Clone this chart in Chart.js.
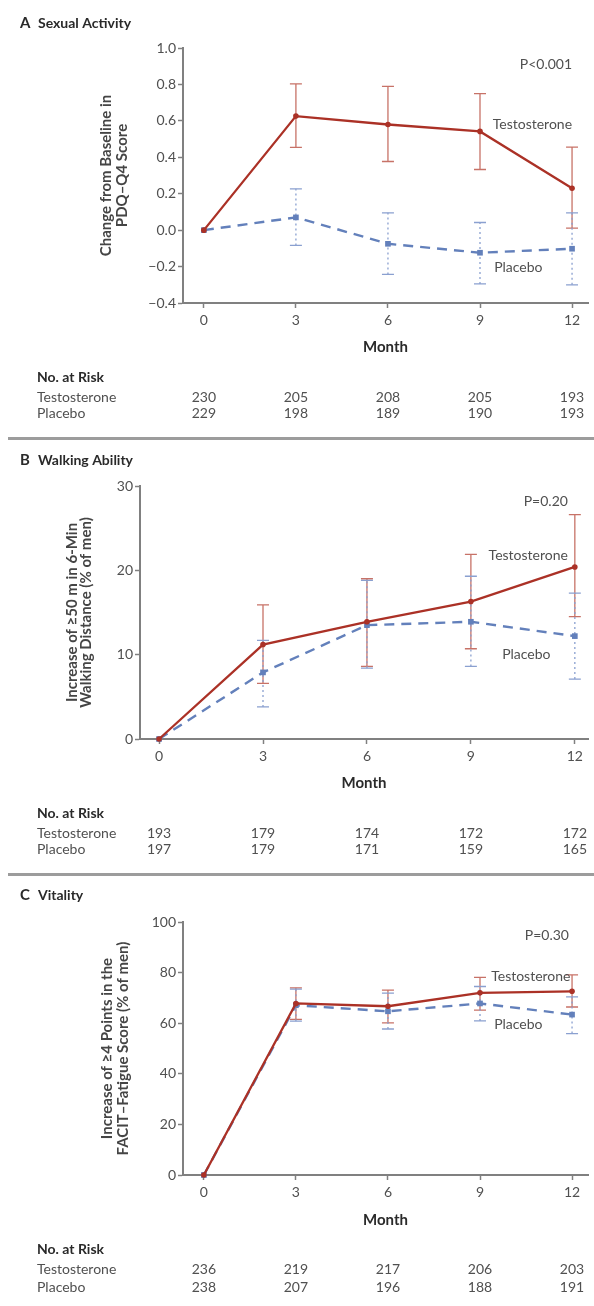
<!DOCTYPE html>
<html>
<head>
<meta charset="utf-8">
<script src="https://cdn.jsdelivr.net/npm/chart.js@4.4.0/dist/chart.umd.min.js"></script>
<style>
  body { margin: 0; background: #fff; width: 594px; height: 1306px; position: relative; overflow: hidden; }
  canvas { position: absolute; left: 0; }
  .rule { position: absolute; left: 8px; right: 0; height: 3px; background: #9c9c9c; }
</style>
</head>
<body>
<canvas id="panelA" width="594" height="437" style="top:0"></canvas>
<div class="rule" style="top:437px"></div>
<canvas id="panelB" width="594" height="433" style="top:440px"></canvas>
<div class="rule" style="top:873px"></div>
<canvas id="panelC" width="594" height="430" style="top:876px"></canvas>
<script>
// months on the x axis
const months = [0, 3, 6, 9, 12];

// A  Sexual activity (change in PDQ-Q4 score)
const sexTesto = [0, 0.626, 0.58, 0.542, 0.23];
const sexTestoLo = [null, 0.454, 0.377, 0.333, 0.011];
const sexTestoHi = [null, 0.803, 0.789, 0.749, 0.456];
const sexPlac = [0, 0.07, -0.075, -0.124, -0.102];
const sexPlacLo = [null, -0.084, -0.243, -0.295, -0.30];
const sexPlacHi = [null, 0.227, 0.095, 0.042, 0.095];
const sexTicks = [-0.4, -0.2, 0, 0.2, 0.4, 0.6, 0.8, 1.0];
const sexRiskTesto = [230, 205, 208, 205, 193];
const sexRiskPlac = [229, 198, 189, 190, 193];

// B  Walking ability (% of men)
const walkTesto = [0, 11.2, 13.9, 16.3, 20.4];
const walkTestoLo = [null, 6.6, 8.6, 10.7, 14.5];
const walkTestoHi = [null, 15.9, 19.0, 21.9, 26.6];
const walkPlac = [0, 7.9, 13.5, 13.9, 12.2];
const walkPlacLo = [null, 3.8, 8.4, 8.6, 7.1];
const walkPlacHi = [null, 11.7, 18.8, 19.3, 17.3];
const walkTicks = [0, 10, 20, 30];
const walkRiskTesto = [193, 179, 174, 172, 172];
const walkRiskPlac = [197, 179, 171, 159, 165];

// C  Vitality (% of men)
const vitTesto = [0, 67.8, 66.7, 72.0, 72.6];
const vitTestoLo = [null, 61.5, 60.1, 65.2, 66.4];
const vitTestoHi = [null, 74.0, 73.1, 78.1, 79.1];
const vitPlac = [0, 67.1, 64.7, 67.8, 63.4];
const vitPlacLo = [null, 60.8, 57.7, 60.9, 55.9];
const vitPlacHi = [null, 73.5, 71.9, 74.5, 70.4];
const vitTicks = [0, 20, 40, 60, 80, 100];
const vitRiskTesto = [236, 219, 217, 206, 203];
const vitRiskPlac = [238, 207, 196, 188, 191];

document.addEventListener('DOMContentLoaded', function() {
  const redColor = '#ab3126',
    redLightColor = '#c77267',
    blueColor = '#6380bb',
    blueLightColor = '#8aa0d0',
    axisColor = '#808080',
    labelColor = '#505050',
    headColor = '#2a2a2a',
    family = 'Lato, "Open Sans", sans-serif';

  const toPoints = (vals) => vals.map((v, i) => ({ x: months[i], y: v }));
  const fmtDec = (v) => v.toFixed(1).replace('-', '\u2212');

  // error bars, notes, panel title and at-risk table
  function extras(cfg) {
    return {
      id: 'panelExtras',
      beforeDatasetsDraw(chart) {
        const ctx = chart.ctx, xs = chart.scales.x, ys = chart.scales.y;
        cfg.bars.forEach(function(b) {
          ctx.save();
          ctx.strokeStyle = b.color;
          ctx.lineWidth = 1.3;
          b.lo.forEach(function(lo, i) {
            if (lo === null) return;
            const x = xs.getPixelForValue(months[i]);
            const y1 = ys.getPixelForValue(lo), y2 = ys.getPixelForValue(b.hi[i]);
            ctx.setLineDash(b.dash);
            ctx.beginPath(); ctx.moveTo(x, y1); ctx.lineTo(x, y2); ctx.stroke();
            ctx.setLineDash([]);
            ctx.beginPath();
            ctx.moveTo(x - 6, y1); ctx.lineTo(x + 6, y1);
            ctx.moveTo(x - 6, y2); ctx.lineTo(x + 6, y2);
            ctx.stroke();
          });
          ctx.restore();
        });
      },
      afterDraw(chart) {
        const ctx = chart.ctx, xs = chart.scales.x, ys = chart.scales.y;
        ctx.save();
        ctx.textBaseline = 'middle';
        // panel heading
        ctx.fillStyle = headColor;
        ctx.textAlign = 'left';
        ctx.font = 'bold 15px ' + family;
        ctx.fillText(cfg.letter, 20, cfg.titleY);
        ctx.font = 'bold 14px ' + family;
        ctx.fillText(cfg.title, 38, cfg.titleY);
        // notes inside the plot
        ctx.fillStyle = labelColor;
        ctx.font = '14px ' + family;
        cfg.notes.forEach(function(n) {
          ctx.textAlign = n.align;
          ctx.fillText(n.text, xs.getPixelForValue(n.x), ys.getPixelForValue(n.y));
        });
        // at-risk table
        ctx.textAlign = 'left';
        ctx.fillStyle = headColor;
        ctx.font = 'bold 14px ' + family;
        ctx.fillText('No. at Risk', 37, cfg.riskY[0]);
        ctx.fillStyle = labelColor;
        ctx.font = '14px ' + family;
        ctx.fillText('Testosterone', 37, cfg.riskY[1]);
        ctx.fillText('Placebo', 37, cfg.riskY[2]);
        ctx.textAlign = 'center';
        months.forEach(function(m, i) {
          const x = xs.getPixelForValue(m);
          ctx.fillText(String(cfg.riskT[i]), x, cfg.riskY[1]);
          ctx.fillText(String(cfg.riskP[i]), x, cfg.riskY[2]);
        });
        ctx.restore();
      }
    };
  }

  function makePanel(id, cfg) {
    return new Chart(document.getElementById(id), {
      type: 'line',
      data: {
        datasets: [
          {
            data: toPoints(cfg.testo),
            borderColor: redColor,
            backgroundColor: redColor,
            borderWidth: 2.3,
            pointRadius: 2.8,
            pointBorderWidth: 0,
            pointStyle: 'circle',
            clip: false
          },
          {
            data: toPoints(cfg.plac),
            borderColor: blueColor,
            backgroundColor: blueColor,
            borderWidth: 2.4,
            borderDash: [10, 7],
            pointRadius: 4,
            pointBorderWidth: 0,
            pointStyle: 'rect',
            clip: false
          }
        ]
      },
      options: {
        responsive: false,
        devicePixelRatio: 1,
        animation: false,
        events: [],
        layout: { padding: { left: cfg.padL, right: 6, top: cfg.padT, bottom: cfg.padB } },
        plugins: { legend: { display: false }, tooltip: { enabled: false } },
        scales: {
          x: {
            type: 'linear',
            min: cfg.xMin,
            max: cfg.xMax,
            afterBuildTicks: function(s) { s.ticks = months.map(v => ({ value: v })); },
            afterFit: function(s) { s.height = cfg.xH; },
            grid: { drawOnChartArea: false, tickLength: 5, tickWidth: 1.5, tickColor: axisColor },
            border: { display: true, color: axisColor, width: 2 },
            ticks: { autoSkip: false, maxRotation: 0, padding: 4, color: labelColor, font: { family: family, size: 14 } },
            title: { display: true, text: 'Month', padding: 0, color: headColor, font: { family: family, size: 15, weight: 'bold', lineHeight: '16px' } }
          },
          y: {
            min: cfg.yTicks[0],
            max: cfg.yTicks[cfg.yTicks.length - 1],
            afterBuildTicks: function(s) { s.ticks = cfg.yTicks.map(v => ({ value: v })); },
            afterFit: function(s) { s.width = cfg.yW; },
            grid: { drawOnChartArea: false, tickLength: 5, tickWidth: 1.5, tickColor: axisColor },
            border: { display: true, color: axisColor, width: 2 },
            ticks: { padding: 2, color: labelColor, font: { family: family, size: 14 }, callback: cfg.fmt },
            title: { display: true, text: cfg.yTitle, padding: 0, color: '#454545', font: { family: family, size: 15, weight: 'bold', lineHeight: cfg.yLH } }
          }
        }
      },
      plugins: [extras(cfg)]
    });
  }

  // A  Sexual Activity
  makePanel('panelA', {
    testo: sexTesto, plac: sexPlac, yTicks: sexTicks, fmt: fmtDec,
    xMin: -0.68, xMax: 12.52,
    padL: 98, yW: 85, padT: 48, xH: 52, padB: 82, yLH: '16px',
    yTitle: ['Change from Baseline in', 'PDQ\u2013Q4 Score'],
    letter: 'A', title: 'Sexual Activity', titleY: 23,
    riskY: [377, 397, 413], riskT: sexRiskTesto, riskP: sexRiskPlac,
    bars: [
      { lo: sexTestoLo, hi: sexTestoHi, color: redLightColor, dash: [] },
      { lo: sexPlacLo, hi: sexPlacHi, color: blueLightColor, dash: [2, 3] }
    ],
    notes: [
      { text: 'P<0.001', x: 12.0, y: 0.91, align: 'right' },
      { text: 'Testosterone', x: 12.0, y: 0.58, align: 'right' },
      { text: 'Placebo', x: 10.25, y: -0.205, align: 'center' }
    ]
  });

  // B  Walking Ability
  makePanel('panelB', {
    testo: walkTesto, plac: walkPlac, yTicks: walkTicks, fmt: (v) => String(v),
    xMin: -0.55, xMax: 12.38,
    padL: 65, yW: 75, padT: 46, xH: 52, padB: 82, yLH: '14px',
    yTitle: ['Increase of \u226550 m in 6-Min', 'Walking Distance (% of men)'],
    letter: 'B', title: 'Walking Ability', titleY: 20,
    riskY: [373, 393, 409], riskT: walkRiskTesto, riskP: walkRiskPlac,
    bars: [
      { lo: walkTestoLo, hi: walkTestoHi, color: redLightColor, dash: [] },
      { lo: walkPlacLo, hi: walkPlacHi, color: blueLightColor, dash: [2, 3] }
    ],
    notes: [
      { text: 'P=0.20', x: 11.8, y: 28.2, align: 'right' },
      { text: 'Testosterone', x: 11.8, y: 21.8, align: 'right' },
      { text: 'Placebo', x: 10.6, y: 10.0, align: 'center' }
    ]
  });

  // C  Vitality
  makePanel('panelC', {
    testo: vitTesto, plac: vitPlac, yTicks: vitTicks, fmt: (v) => String(v),
    xMin: -0.68, xMax: 12.52,
    padL: 99, yW: 84, padT: 46, xH: 53, padB: 78, yLH: '16px',
    yTitle: ['Increase of \u22654 Points in the', 'FACIT\u2013Fatigue Score (% of men)'],
    letter: 'C', title: 'Vitality', titleY: 19,
    riskY: [373, 393, 411], riskT: vitRiskTesto, riskP: vitRiskPlac,
    bars: [
      { lo: vitTestoLo, hi: vitTestoHi, color: redLightColor, dash: [] },
      { lo: vitPlacLo, hi: vitPlacHi, color: blueLightColor, dash: [2, 3] }
    ],
    notes: [
      { text: 'P=0.30', x: 11.9, y: 94.5, align: 'right' },
      { text: 'Testosterone', x: 11.95, y: 78.3, align: 'right' },
      { text: 'Placebo', x: 10.25, y: 59.5, align: 'center' }
    ]
  });
});
</script>
</body>
</html>
